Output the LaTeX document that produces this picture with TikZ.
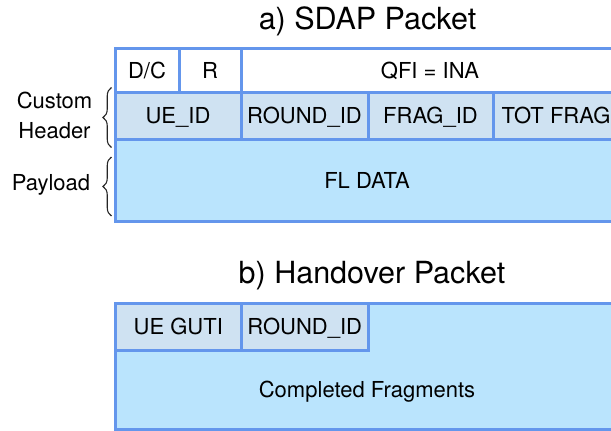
\documentclass[tikz,border=0pt]{standalone}
\usepackage{fontspec}
\setmainfont{TeX Gyre Heros}
\usetikzlibrary{decorations.pathreplacing}

\definecolor{edgeblue}{RGB}{100,150,236}
\definecolor{hdrfill}{RGB}{207,226,242}
\definecolor{payfill}{RGB}{186,228,253}

\tikzset{
  cell/.style={draw=edgeblue, line width=3pt, inner sep=0pt, outer sep=0pt,
    text height=15.8pt, text depth=0pt,
    font=\fontsize{22}{26}\selectfont},
  whitecell/.style={cell, fill=white},
  hdrcell/.style={cell, fill=hdrfill},
  paycell/.style={cell, fill=payfill},
  title/.style={anchor=base, inner sep=0pt, font=\fontsize{30.5}{34}\selectfont},
  sidelabel/.style={inner sep=0pt, align=center, font=\fontsize{22}{30}\selectfont},
  bracket/.style={decorate, decoration={brace, amplitude=8.5pt}, line width=1.1pt, black!85}
}

\begin{document}
\begin{tikzpicture}[x=1pt, y=-1pt]
  \useasboundingbox (0,0) rectangle (611,431);
  \clip (0,0) rectangle (611,431);

  % a) SDAP packet
  \node[title] (ta) at (367.5,29.3) {a) SDAP Packet};

  \node[whitecell, minimum width=64pt,  minimum height=44.5pt] (dc)  at (147,70.25) {D/C};
  \node[whitecell, minimum width=62pt,  minimum height=44.5pt] (r)   at (210,70.25) {R};
  \node[whitecell, minimum width=378pt, minimum height=44.5pt] (qfi) at (430,70.25) {QFI = INA};

  \node[hdrcell, minimum width=126pt, minimum height=46.5pt] (ueid)    at (178,115.75)   {UE\_ID};
  \node[hdrcell, minimum width=127pt, minimum height=46.5pt] (roundid) at (304.5,115.75) {ROUND\_ID};
  \node[hdrcell, minimum width=125pt, minimum height=46.5pt] (fragid)  at (430.5,115.75) {FRAG\_ID};
  \node[hdrcell, minimum width=126pt, minimum height=46.5pt] (totfrag) at (556,115.75)   {TOT FRAG};

  \node[paycell, minimum width=504pt, minimum height=82.5pt] (fldata) at (367,180.25) {FL DATA};

  % side labels with braces
  \node[sidelabel] (custom) at (54.5,115.5) {Custom\\Header};
  \node[sidelabel, text height=15.8pt, text depth=0pt] (payload) at (51,182.5) {Payload};
  \coordinate (hb1) at (111.5,147.5);
  \coordinate (hb2) at (111.5,87.5);
  \coordinate (pb1) at (111.5,216);
  \coordinate (pb2) at (111.5,157);
  \draw[bracket] (hb1) -- (hb2);
  \draw[bracket] (pb1) -- (pb2);

  % b) Handover packet
  \node[title] (tb) at (372,283.3) {b) Handover Packet};

  \node[paycell, minimum width=504pt, minimum height=126pt] (hobox) at (367,366) {};
  \node[hdrcell, minimum width=126.5pt, minimum height=47pt] (guti)     at (178.25,326.5) {UE GUTI};
  \node[hdrcell, minimum width=126.5pt, minimum height=47pt] (roundid2) at (304.75,326.5) {ROUND\_ID};
  \node[inner sep=0pt, text height=15.8pt, text depth=0pt,
        font=\fontsize{22}{26}\selectfont] (frags) at (367,389.5) {Completed Fragments};
\end{tikzpicture}
\end{document}
